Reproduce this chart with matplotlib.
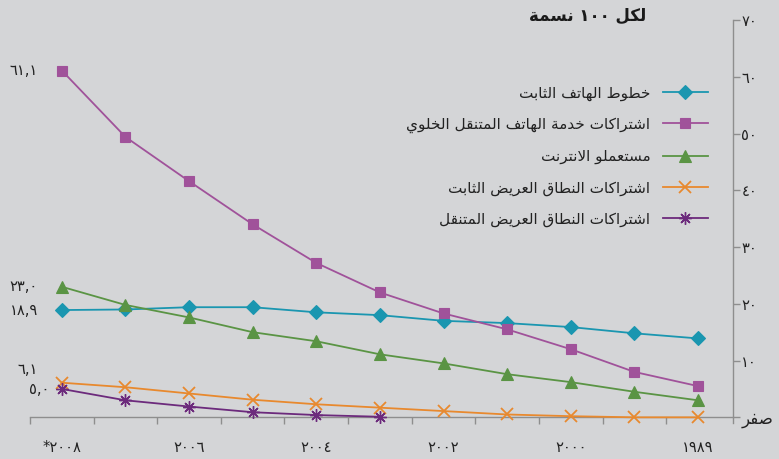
import numpy as np
import matplotlib
matplotlib.use("Agg")
import matplotlib.pyplot as plt

# ---------------- data ----------------
years = [2008, 2007, 2006, 2005, 2004, 2003, 2002, 2001, 2000, 1999, 1998]
fixed_lines = [18.9, 19.0, 19.4, 19.4, 18.5, 18.0, 17.0, 16.6, 15.9, 14.8, 13.9]
mobile_cell = [61.1, 49.4, 41.6, 34.0, 27.2, 22.0, 18.3, 15.5, 12.0, 8.0, 5.5]
internet = [23.0, 19.8, 17.6, 15.0, 13.4, 11.1, 9.5, 7.6, 6.2, 4.5, 3.0]
fixed_bb = [6.1, 5.3, 4.2, 3.1, 2.3, 1.7, 1.1, 0.5, 0.2, 0.0, 0.0]
mobile_bb = [5.0, 3.0, 1.9, 0.9, 0.4, 0.1, np.nan, np.nan, np.nan, np.nan, np.nan]

series_names = [
    "خطوط الهاتف الثابت",
    "اشتراكات خدمة الهاتف المتنقل الخلوي",
    "مستعملو الانترنت",
    "اشتراكات النطاق العريض الثابت",
    "اشتراكات النطاق العريض المتنقل",
]
title_text = "لكل ١٠٠ نسمة"
zero_label = "صفر"
x_label_years = [2008, 2006, 2004, 2002, 2000, 1998]
x_label_texts = ["*٢٠٠٨", "٢٠٠٦", "٢٠٠٤", "٢٠٠٢", "٢٠٠٠", "١٩٨٩"]
y_ticks = [0, 10, 20, 30, 40, 50, 60, 70]

# ---------------- Arabic shaping helpers ----------------
FORMS = {
    'ا': (0xFE8D, 0xFE8E, None, None),
    'ب': (0xFE8F, 0xFE90, 0xFE91, 0xFE92),
    'ة': (0xFE93, 0xFE94, None, None),
    'ت': (0xFE95, 0xFE96, 0xFE97, 0xFE98),
    'ث': (0xFE99, 0xFE9A, 0xFE9B, 0xFE9C),
    'ج': (0xFE9D, 0xFE9E, 0xFE9F, 0xFEA0),
    'ح': (0xFEA1, 0xFEA2, 0xFEA3, 0xFEA4),
    'خ': (0xFEA5, 0xFEA6, 0xFEA7, 0xFEA8),
    'د': (0xFEA9, 0xFEAA, None, None),
    'ذ': (0xFEAB, 0xFEAC, None, None),
    'ر': (0xFEAD, 0xFEAE, None, None),
    'ز': (0xFEAF, 0xFEB0, None, None),
    'س': (0xFEB1, 0xFEB2, 0xFEB3, 0xFEB4),
    'ش': (0xFEB5, 0xFEB6, 0xFEB7, 0xFEB8),
    'ص': (0xFEB9, 0xFEBA, 0xFEBB, 0xFEBC),
    'ض': (0xFEBD, 0xFEBE, 0xFEBF, 0xFEC0),
    'ط': (0xFEC1, 0xFEC2, 0xFEC3, 0xFEC4),
    'ظ': (0xFEC5, 0xFEC6, 0xFEC7, 0xFEC8),
    'ع': (0xFEC9, 0xFECA, 0xFECB, 0xFECC),
    'غ': (0xFECD, 0xFECE, 0xFECF, 0xFED0),
    'ف': (0xFED1, 0xFED2, 0xFED3, 0xFED4),
    'ق': (0xFED5, 0xFED6, 0xFED7, 0xFED8),
    'ك': (0xFED9, 0xFEDA, 0xFEDB, 0xFEDC),
    'ل': (0xFEDD, 0xFEDE, 0xFEDF, 0xFEE0),
    'م': (0xFEE1, 0xFEE2, 0xFEE3, 0xFEE4),
    'ن': (0xFEE5, 0xFEE6, 0xFEE7, 0xFEE8),
    'ه': (0xFEE9, 0xFEEA, 0xFEEB, 0xFEEC),
    'و': (0xFEED, 0xFEEE, None, None),
    'ى': (0xFEEF, 0xFEF0, None, None),
    'ي': (0xFEF1, 0xFEF2, 0xFEF3, 0xFEF4),
}


def shape_word(word):
    units = []
    i = 0
    while i < len(word):
        if word[i] == 'ل' and i + 1 < len(word) and word[i + 1] == 'ا':
            units.append('LA')
            i += 2
        else:
            units.append(word[i])
            i += 1

    def dual(u):
        return u in FORMS and FORMS[u][2] is not None

    def joins(u):
        return u == 'LA' or u in FORMS

    out = []
    for k, u in enumerate(units):
        prev_conn = k > 0 and dual(units[k - 1]) and joins(u)
        if u == 'LA':
            out.append(chr(0xFEFC if prev_conn else 0xFEFB))
            continue
        if u not in FORMS:
            out.append(u)
            continue
        nxt_conn = dual(u) and k + 1 < len(units) and joins(units[k + 1])
        iso, fin, ini, med = FORMS[u]
        if prev_conn and nxt_conn:
            out.append(chr(med))
        elif prev_conn:
            out.append(chr(fin))
        elif nxt_conn:
            out.append(chr(ini))
        else:
            out.append(chr(iso))
    return ''.join(out)


def is_arabic_word(w):
    return any(c in FORMS for c in w)


def ar(text):
    tokens = text.split(' ')
    vis = []
    for t in reversed(tokens):
        if is_arabic_word(t):
            vis.append(shape_word(t)[::-1])
        else:
            vis.append(t)
    return ' '.join(vis)


DIG = str.maketrans('0123456789.', '٠١٢٣٤٥٦٧٨٩,')


def adig(v, fmt="{:.1f}"):
    return fmt.format(v).translate(DIG)


# ---------------- style ----------------
plt.rcParams['font.family'] = ['DejaVu Sans']
BG = '#d4d5d7'
AX = '#8e8e8e'
colors = ['#1a96b0', '#a0529a', '#5a9444', '#e8892e', '#6c2a7c']
markers = ['D', 's', '^', 'x', (8, 2, 0)]
msizes = [7, 7, 8, 8, 9]
medges = [0.8, 0.8, 0.8, 1.3, 1.0]
series = [fixed_lines, mobile_cell, internet, fixed_bb, mobile_bb]

fig = plt.figure(figsize=(7.79, 4.59), dpi=100, facecolor=BG)
ax = fig.add_axes([30 / 779, 1 - 423 / 459, 703 / 779, 403 / 459])
ax.set_facecolor(BG)

handles = []
for vals, c, m, ms, mew, name in zip(series, colors, markers, msizes, medges, series_names):
    h, = ax.plot(years, vals, color=c, lw=1.3, marker=m, markersize=ms,
                 markeredgewidth=mew, markeredgecolor=c, markerfacecolor=c,
                 clip_on=False, label=ar(name), zorder=3)
    handles.append(h)

ax.set_xlim(2008.5, 1997.45)
ax.set_ylim(-1, 70)

for s in ['top', 'left']:
    ax.spines[s].set_visible(False)
ax.spines['bottom'].set_position(('data', 0))
ax.spines['bottom'].set_color(AX)
ax.spines['right'].set_color(AX)
ax.spines['bottom'].set_linewidth(1.0)
ax.spines['right'].set_linewidth(1.0)

# y axis on right
ax.yaxis.tick_right()
ax.set_yticks(y_ticks)
ax.set_yticklabels([ar(zero_label) if v == 0 else adig(v, "{:d}") for v in y_ticks])
ax.tick_params(axis='y', colors=AX, labelcolor='#222222', length=5, width=1.0,
               labelsize=10.5, pad=1)
ytl = ax.get_yticklabels()
ytl[0].set_fontsize(12)

# x axis: boundary ticks (major, no labels) and year labels (minor, no ticks)
ax.set_xticks([y + 0.5 for y in years])
ax.set_xticklabels([])
ax.tick_params(axis='x', which='major', colors=AX, length=5, width=1.0)
ax.set_xticks(x_label_years, minor=True)
ax.set_xticklabels(x_label_texts, minor=True)
ax.tick_params(axis='x', which='minor', length=0, pad=16, labelsize=10.5,
               labelcolor='#222222')

# left-side value annotations
ann = [
    (mobile_cell[0], 0, -24, 0),
    (internet[0], 0, -24, 0),
    (fixed_lines[0], 0, -24, 0),
    (fixed_bb[0], 0, -24, 13),
    (mobile_bb[0], 0, -12, -1),
]
for v, idx, dx, dy in ann:
    ax.annotate(adig(v), xy=(years[idx], v), xytext=(dx * 0.72, dy * 0.72),
                textcoords='offset points', ha='right', va='center',
                fontsize=10.5, color='#222222', annotation_clip=False)

# title
fig.text(646 / 779, 1 - 16 / 459, ar(title_text), ha='right', va='center',
         fontsize=12, fontweight='bold', color='#1a1a1a')

leg = ax.legend(handles=handles, loc='upper right', bbox_to_anchor=(0.965, 0.8375),
                frameon=False, markerfirst=False, handlelength=3.0,
                handletextpad=0.8, labelspacing=1.05, fontsize=11,
                borderaxespad=0, borderpad=0)
for t in leg.get_texts():
    t.set_ha('right')
    t.set_color('#222222')

fig.savefig('out.png', dpi=100, facecolor=BG)
